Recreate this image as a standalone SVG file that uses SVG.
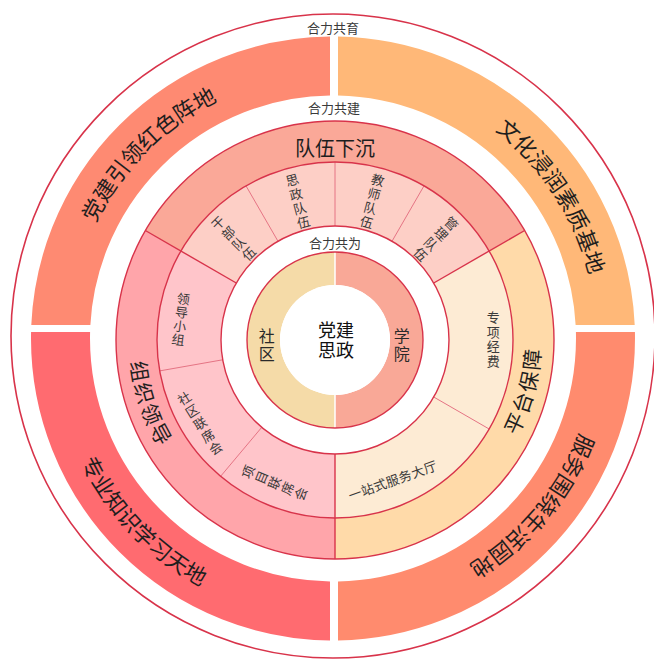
<svg xmlns="http://www.w3.org/2000/svg" width="654" height="660" viewBox="0 0 654 660">
<defs>
<style>
text{font-family:"Noto Sans CJK SC","Noto Sans",sans-serif;fill:#2a2a2a}
.c{text-anchor:middle;dominant-baseline:central}
.v{writing-mode:vertical-rl;text-anchor:middle}
.s{font-size:13px;fill:#3a3a3a}
.band{font-size:22px;fill:#1e1e1e}
.sec{font-size:21px;fill:#1e1e1e}
.ring{fill:none;stroke:#D8334A;stroke-width:1.4}
.sub{stroke:#E57484;stroke-width:1}
.main{stroke:#D8334A;stroke-width:1.4}
</style>
<clipPath id="cTL"><rect x="0" y="0" width="330" height="325"/></clipPath>
<clipPath id="cTR"><rect x="338" y="0" width="316" height="325"/></clipPath>
<clipPath id="cBL"><rect x="0" y="332" width="330" height="328"/></clipPath>
<clipPath id="cBR"><rect x="338" y="332" width="316" height="328"/></clipPath>
<path id="pTL" d="M70,315.5 A264,264 0 0 1 310,75.5"/>
<path id="pTR" d="M410.19,86.04 A264,264 0 0 1 595.03,370.67"/>
<path id="pBR" d="M597,338.5 A264,264 0 0 1 378.84,598.49"/>
<path id="pBL" d="M52.69,358.1 A281,281 0 0 0 303.63,617.96"/>
<path id="pL" d="M142.68,266.18 A206,206 0 0 0 228.9,516.58"/>
<path id="pR" d="M453.16,508.74 A206,206 0 0 0 521.7,252.94"/>
</defs>
<rect width="654" height="660" fill="#fff"/>
<circle cx="333" cy="336" r="322" fill="#fff" stroke="#D8334A" stroke-width="1.6"/>
<text class="c s" x="333" y="27">合力共育</text>

<g id="band-tl"><circle cx="333" cy="338.5" r="272.5" fill="none" stroke="#FE8A72" stroke-width="59" clip-path="url(#cTL)"/>
<text class="band"><textPath href="#pTL" startOffset="50%" text-anchor="middle">党建引领红色阵地</textPath></text></g>
<g id="band-tr"><circle cx="333" cy="338.5" r="272.5" fill="none" stroke="#FFB878" stroke-width="59" clip-path="url(#cTR)"/>
<text class="band"><textPath href="#pTR" startOffset="50%" text-anchor="middle">文化浸润素质基地</textPath></text></g>
<g id="band-bl"><circle cx="333" cy="338.5" r="272.5" fill="none" stroke="#FF6B70" stroke-width="59" clip-path="url(#cBL)"/>
<text class="band"><textPath href="#pBL" startOffset="50%" text-anchor="middle">专业知识学习天地</textPath></text></g>
<g id="band-br"><circle cx="333" cy="338.5" r="272.5" fill="none" stroke="#FF8B6E" stroke-width="59" clip-path="url(#cBR)"/>
<text class="band"><textPath href="#pBR" startOffset="50%" text-anchor="middle">服务围绕生活园地</textPath></text></g>

<text class="c s" x="334" y="107">合力共建</text>

<g id="sector-top"><path d="M145.34,230.5 A219,219 0 0 1 524.66,230.5 L489.15,251 A178,178 0 0 0 180.85,251 Z" fill="#FAA898"/>
<text class="c" x="335" y="147" style="font-size:20px;fill:#1e1e1e">队伍下沉</text></g>
<g id="sector-right"><path d="M524.66,230.5 A219,219 0 0 1 335,559 L335,518 A178,178 0 0 0 489.15,251 Z" fill="#FFDAA9"/>
<text class="sec" letter-spacing="2"><textPath href="#pR" startOffset="50%" text-anchor="middle">平台保障</textPath></text></g>
<g id="sector-left"><path d="M335,559 A219,219 0 0 1 145.34,230.5 L180.85,251 A178,178 0 0 0 335,518 Z" fill="#FFA5AA"/>
<text class="sec" letter-spacing="2"><textPath href="#pL" startOffset="50%" text-anchor="middle">组织领导</textPath></text></g>

<g id="sub-top"><path d="M180.85,251 A178,178 0 0 1 489.15,251 L433.73,283 A114,114 0 0 0 236.27,283 Z" fill="#FDCFC6"/></g>
<g id="sub-right"><path d="M489.15,251 A178,178 0 0 1 335,518 L335,454 A114,114 0 0 0 433.73,283 Z" fill="#FDEBD4"/></g>
<g id="sub-left"><path d="M335,518 A178,178 0 0 1 180.85,251 L236.27,283 A114,114 0 0 0 335,454 Z" fill="#FFC5CA"/></g>

<g id="dividers">
<line class="sub" x1="278" y1="241.27" x2="246" y2="185.85"/>
<line class="sub" x1="335" y1="226" x2="335" y2="162"/>
<line class="sub" x1="392" y1="241.27" x2="424" y2="185.85"/>
<line class="sub" x1="433.73" y1="397" x2="489.15" y2="429"/>
<line class="sub" x1="261.72" y1="427.33" x2="220.58" y2="476.35"/>
<line class="sub" x1="222.73" y1="359.79" x2="159.7" y2="370.9"/>
<line class="main" x1="236.27" y1="283" x2="145.34" y2="230.5"/>
<line class="main" x1="433.73" y1="283" x2="524.66" y2="230.5"/>
<line class="main" x1="335" y1="454" x2="335" y2="559"/>
<circle class="ring" cx="335" cy="340" r="219"/>
<circle class="ring" cx="335" cy="340" r="178"/>
<circle class="ring" cx="335" cy="340" r="114"/>
</g>

<g id="node-ganbu"><text class="v s" letter-spacing="1.5" transform="translate(233.9,238.9) rotate(-45)">干部队伍</text></g>
<g id="node-sizheng"><text class="v s" letter-spacing="1.5" transform="translate(298,201.9) rotate(-15)">思政队伍</text></g>
<g id="node-jiaoshi"><text class="v s" letter-spacing="1.5" transform="translate(372,201.9) rotate(15)">教师队伍</text></g>
<g id="node-guanli"><text class="v s" letter-spacing="1.5" transform="translate(435.4,239.6) rotate(45)">管理队伍</text></g>
<g id="node-zhuanxiang"><text class="v s" letter-spacing="1.5" x="493.3" y="340">专项经费</text></g>
<g id="node-yizhanshi"><text class="c s" transform="translate(392.5,480) rotate(-19.5)" letter-spacing="0.3">一站式服务大厅</text></g>
<g id="node-lingdao"><text class="v s" letter-spacing="0.7" transform="translate(180.7,319.7) rotate(7.5)">领导小组</text></g>
<g id="node-shequ-lxh"><text class="v s" letter-spacing="1.7" transform="translate(200.5,424) rotate(-32)">社区联席会</text></g>
<g id="node-xiangmu-lxh"><text class="v s" letter-spacing="1.2" transform="translate(275,483) rotate(-67.25)">项目联席会</text></g>

<text class="c s" x="335" y="242">合力共为</text>

<g id="node-shequ">
<path d="M335,252 A88,88 0 0 0 335,428 L335,395 A55,55 0 0 1 335,285 Z" fill="#F5DBA8"/>
<text class="v" x="266.7" y="346" letter-spacing="2.3" style="font-size:16px">社区</text>
</g>
<g id="node-xueyuan">
<path d="M335,252 A88,88 0 0 1 335,428 L335,395 A55,55 0 0 0 335,285 Z" fill="#F9A897"/>
<text class="v" x="401.7" y="346" letter-spacing="2.3" style="font-size:16px">学院</text>
</g>
<g id="inner-lines">
<line x1="335" y1="252" x2="335" y2="285" stroke="#fff" stroke-width="1.5"/>
<line x1="335" y1="395" x2="335" y2="428" stroke="#fff" stroke-width="1.5"/>
<circle class="ring" cx="335" cy="340" r="88"/>
</g>
<g id="node-center">
<circle cx="335" cy="340" r="55" fill="#fff"/>
<text class="c" style="font-size:18px;fill:#111"><tspan x="336" y="328.5">党建</tspan><tspan x="336" y="349">思政</tspan></text>
</g>
</svg>
